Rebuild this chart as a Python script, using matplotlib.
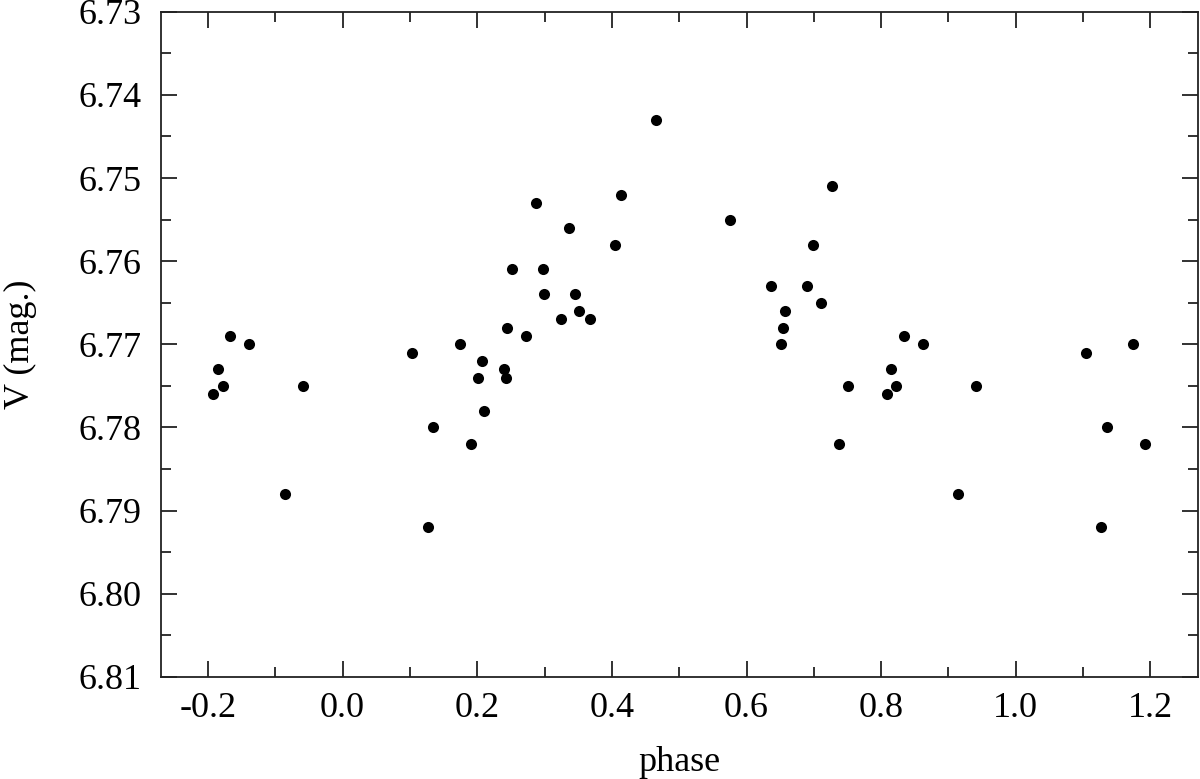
"""
V light curve folded on phase, with the phase range padded to -0.2 .. 1.2
"""

import numpy as np
import matplotlib
matplotlib.use('Agg')
import matplotlib.pyplot as plt
from matplotlib.ticker import MultipleLocator, FormatStrFormatter

# phase in [0, 1) and V magnitude
phase = [0.1038, 0.1266, 0.1349, 0.1741, 0.1913, 0.2012, 0.2076, 0.2105,
         0.2397, 0.2432, 0.2446, 0.2520, 0.2719, 0.2872, 0.2976, 0.2986,
         0.3238, 0.3361, 0.3450, 0.3514, 0.3672, 0.4047, 0.4137, 0.4648,
         0.5758, 0.6360, 0.6514, 0.6538, 0.6568, 0.6894, 0.6983, 0.7107,
         0.7275, 0.7374, 0.7512, 0.8080, 0.8145, 0.8224, 0.8332, 0.8614,
         0.9143, 0.9405]
vmag = [6.771, 6.792, 6.780, 6.770, 6.782, 6.774, 6.772, 6.778,
        6.773, 6.774, 6.768, 6.761, 6.769, 6.753, 6.761, 6.764,
        6.767, 6.756, 6.764, 6.766, 6.767, 6.758, 6.752, 6.743,
        6.755, 6.763, 6.770, 6.768, 6.766, 6.763, 6.758, 6.765,
        6.751, 6.782, 6.775, 6.776, 6.773, 6.775, 6.769, 6.770,
        6.788, 6.775]

phase_min, phase_max = -0.2, 1.2

# repeat the cycle so the plot covers phase_min .. phase_max
p = np.array(phase)
v = np.array(vmag)
pp = np.concatenate([p - 1, p, p + 1])
vv = np.concatenate([v, v, v])
keep = (pp >= phase_min) & (pp < phase_max)
pp, vv = pp[keep], vv[keep]

plt.rcParams['font.family'] = ['Liberation Serif', 'DejaVu Serif']
plt.rcParams['font.size'] = 26

fig = plt.figure(figsize=(12, 7.79), dpi=100)
ax = fig.add_axes([0.134, 0.131, 0.864, 0.854])

ax.plot(pp, vv, 'o', color='black', markersize=8, markeredgewidth=0)

ax.set_xlim(-0.27, 1.27)
ax.set_ylim(6.81, 6.73)

ax.xaxis.set_major_locator(MultipleLocator(0.2))
ax.xaxis.set_minor_locator(MultipleLocator(0.1))
ax.yaxis.set_major_locator(MultipleLocator(0.01))
ax.yaxis.set_minor_locator(MultipleLocator(0.005))
ax.xaxis.set_major_formatter(FormatStrFormatter('%.1f'))
ax.yaxis.set_major_formatter(FormatStrFormatter('%.2f'))

ax.tick_params(which='both', direction='in', top=True, right=True,
               color='#222222', width=1.3)
ax.tick_params(which='major', length=11.5)
ax.tick_params(which='minor', length=7)
ax.tick_params(axis='x', which='major', pad=11)
ax.tick_params(axis='y', which='major', pad=14)

for s in ax.spines.values():
    s.set_linewidth(1.3)
    s.set_color('#222222')

ax.set_xlabel('phase', labelpad=15)
ax.set_ylabel('V (mag.)', labelpad=30)

fig.savefig('out.png', dpi=100)
